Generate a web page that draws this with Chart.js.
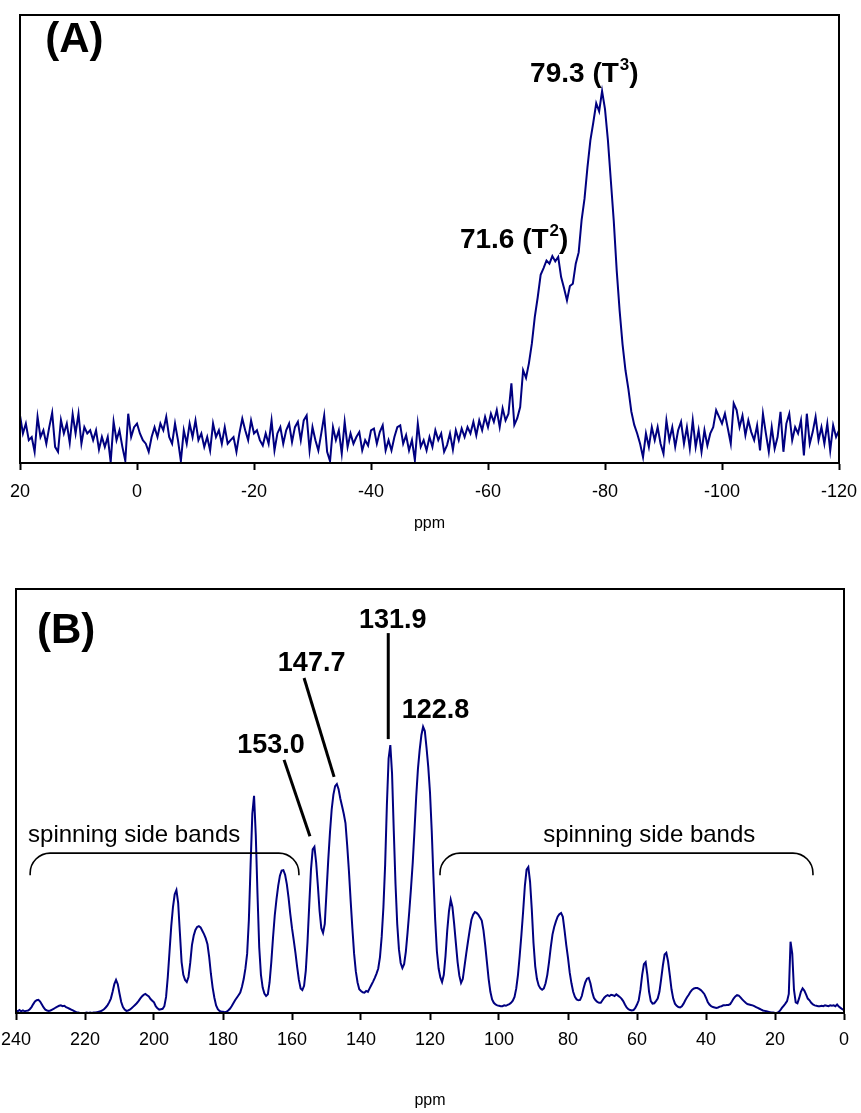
<!DOCTYPE html>
<html><head><meta charset="utf-8">
<script src="https://cdn.jsdelivr.net/npm/chart.js@4/dist/chart.umd.min.js"></script>
<style>
html,body{margin:0;padding:0;background:#fff;}
body{width:861px;height:1113px;overflow:hidden;position:relative;}
canvas{position:absolute;left:0;}
</style></head>
<body>
<canvas id="cA" width="861" height="556" style="top:0px"></canvas>
<canvas id="cB" width="861" height="557" style="top:556px"></canvas>
<script>
// ---------- DATA ----------
// Panel A: 29Si spectrum, sampled from 20 ppm down to -120 ppm every 0.5 ppm
const siStart = 20, siStep = -0.5;
const siIntensity = [
 10.6,6.6,8.8,5.1,5.8,2.5,10.3,5.8,7.3,4.3,
 8.0,11.2,3.6,2.5,9.6,6.6,8.8,4.5,10.9,6.6,
 11.0,4.3,8.0,6.6,7.3,5.1,7.3,3.0,5.8,3.6,
 5.8,0.2,9.2,5.1,7.3,3.6,0.5,11.0,5.8,8.0,
 8.8,6.6,5.1,4.3,2.5,5.8,8.0,5.8,8.8,7.3,
 10.3,5.8,4.3,8.8,5.1,0.4,7.3,4.3,8.8,5.8,
 9.5,5.1,6.6,3.6,5.8,2.8,8.8,5.8,7.3,4.3,
 8.0,4.3,5.1,5.8,
 2.5,6.6,9.9,7.3,5.1,9.5,6.6,7.3,5.1,3.9,
 6.6,4.3,9.5,2.8,6.6,8.0,4.3,7.3,8.8,4.7,
 8.0,9.2,5.1,9.5,10.6,2.8,8.0,5.1,2.8,6.6,
 10.6,2.5,0.4,8.0,5.1,7.3,2.1,9.2,3.6,6.6,
 4.3,5.8,6.9,2.8,5.1,3.9,7.3,7.7,4.3,6.9,
 8.4,2.8,5.1,2.8,5.8,8.0,8.4,4.3,6.2,2.8,
 5.1,0.6,8.8,3.6,5.1,2.8,5.8,3.6,7.3,5.1,
 6.6,2.5,
 4.0,6.6,3.0,7.3,5.1,7.7,5.8,8.0,6.6,9.2,
 6.2,9.5,7.3,10.3,8.0,11.0,9.2,11.8,8.0,12.2,
 9.5,11.0,17.8,8.5,10.0,12.5,20.7,19.0,22.3,26.7,
 32.6,37.0,42.0,43.5,45.2,44.5,46.2,45.0,46.0,41.5,
 39.0,36.3,39.5,40.0,44.5,47.0,54.2,59.0,66.0,72.0,
 76.0,80.3,78.5,83.0,79.0,72.0,63.0,54.0,43.0,34.0,
 26.5,20.7,16.5,11.5,8.5,6.6,4.3,1.3,
 6.6,3.6,8.0,5.1,8.0,4.3,2.1,9.5,5.1,8.0,
 3.6,7.3,9.2,4.3,8.0,3.2,9.5,3.6,7.3,2.5,
 7.3,3.9,6.6,8.0,11.8,10.3,8.8,11.0,7.7,4.3,
 13.3,11.8,8.0,10.6,6.2,9.5,6.9,5.1,8.4,2.8,
 11.0,6.6,2.5,8.0,3.2,5.8,11.4,2.5,8.8,11.0,
 5.1,8.0,6.6,9.5,1.7,11.0,4.3,6.9,10.3,5.1,
 8.0,4.3,8.8,2.8,8.4,5.8,7.3
];
const siTicks = [20,0,-20,-40,-60,-80,-100,-120];

// Panel B: 13C spectrum, sampled from 240 ppm down to 0 ppm every 0.5 ppm
const cStart = 240, cStep = -0.5;
const cIntensity = [
 0.6,0.4,0.7,0.4,0.6,0.4,0.5,0.6,0.9,1.4,2.1,2.7,3.0,3.1,2.7,2.0,1.3,0.8,0.6,0.5,
 0.6,0.8,1.0,1.3,1.5,1.7,1.8,1.6,1.7,1.4,1.2,1.0,0.8,0.6,0.4,0.2,0.1,0.0,0.0,0.0,
 0.0,0.1,0.0,0.1,0.0,0.1,0.1,0.2,0.3,0.4,0.6,0.9,1.3,1.8,2.5,3.4,5.0,6.8,7.8,6.8,
 4.6,2.6,1.4,0.8,0.5,0.6,0.8,1.1,1.5,1.9,2.3,2.8,3.4,3.9,4.3,4.5,4.2,3.9,3.3,2.9,
 2.5,1.6,1.1,0.8,0.9,1.0,1.6,3.8,8.5,14.5,20.5,25.0,28.0,29.0,26.0,19.0,12.0,9.0,7.8,7.3,
 8.5,11.8,16.0,18.2,19.6,20.3,20.5,20.2,19.4,18.6,17.6,16.2,13.2,9.2,6.0,3.6,1.8,0.9,0.5,0.3,
 0.3,0.2,0.3,0.6,1.0,1.6,2.3,3.0,3.6,4.2,4.8,6.2,8.0,10.5,14.0,22.0,35.0,47.0,51.2,42.0,
 28.0,15.5,9.0,6.0,4.6,4.0,4.4,7.2,12.0,17.8,23.0,26.8,30.0,32.4,33.6,33.7,32.6,30.4,27.2,23.4,
 20.0,17.2,14.2,10.8,7.8,5.8,5.4,6.4,10.0,16.8,25.5,33.8,38.6,39.2,35.5,30.0,24.0,20.0,18.9,21.0,
 28.5,36.0,42.5,48.0,51.5,53.5,54.0,52.8,50.6,48.8,47.0,44.8,39.5,33.5,26.5,20.0,14.0,9.8,7.2,5.6,
 5.2,4.9,4.8,5.2,5.0,5.8,6.6,7.4,8.3,9.3,10.5,13.2,18.0,25.0,35.0,49.0,60.0,63.2,56.5,43.0,
 30.5,21.0,15.0,11.8,10.6,11.5,14.5,19.0,24.0,29.5,35.5,43.0,51.0,57.5,62.0,65.5,67.5,66.5,62.5,58.0,
 52.0,43.0,32.0,22.0,14.5,10.5,8.4,7.3,9.0,13.5,19.5,24.0,26.7,25.0,21.0,16.5,12.0,8.8,7.1,8.0,
 11.0,14.0,16.8,19.5,22.0,23.2,23.8,23.6,23.2,22.5,21.8,19.5,16.0,12.0,8.0,5.0,3.2,2.4,2.0,1.8,
 1.7,1.6,1.6,1.8,1.7,1.9,2.1,2.4,2.9,3.8,5.8,9.0,13.5,18.5,24.0,30.0,33.8,34.4,31.0,24.5,
 16.5,11.0,8.0,6.5,5.8,5.5,5.8,7.0,9.0,12.0,15.5,18.5,20.3,21.6,22.7,23.3,23.6,22.7,19.5,16.0,
 13.0,9.5,7.0,5.0,3.8,3.2,3.0,3.1,4.0,5.8,7.2,8.1,8.3,7.0,5.0,3.6,3.0,2.6,2.4,2.4,
 3.0,3.6,4.0,4.2,4.0,4.3,4.2,4.0,4.4,4.1,3.8,3.4,2.8,2.0,1.3,0.9,0.7,0.6,0.7,1.2,
 2.0,3.0,5.5,9.0,11.5,12.0,9.0,5.0,2.8,2.2,2.3,2.8,3.4,5.0,8.0,11.2,13.8,14.2,12.2,9.0,
 5.6,3.4,2.2,1.7,1.4,1.3,1.6,2.2,3.0,3.7,4.3,5.0,5.5,5.8,5.9,5.9,5.7,5.4,5.0,4.5,
 3.6,2.6,2.0,1.6,1.4,1.3,1.2,1.3,1.5,1.6,1.8,1.8,1.9,1.9,2.1,2.7,3.4,3.9,4.2,4.1,
 3.7,3.2,2.8,2.4,2.1,2.0,1.9,1.8,1.6,1.4,1.2,1.0,0.8,0.6,0.5,0.4,0.3,0.2,0.1,0.1,
 0.0,0.0,0.2,0.6,1.2,1.7,2.2,2.8,4.5,16.8,14.0,5.5,2.5,2.3,3.5,5.0,5.8,5.3,4.4,3.4,
 3.0,2.4,2.0,1.8,1.7,1.6,1.6,1.7,1.6,1.8,1.7,1.6,1.8,1.7,1.8,1.6,2.0,1.5,1.2,0.9,0.7
];
const cTicks = [240,220,200,180,160,140,120,100,80,60,40,20,0];

// Annotation texts (anchored in data coordinates: ppm, intensity)
const siPeakLabels = [
  {pre:'79.3 (T', sup:'3', post:')', ppm:-67.2, v:85.0},
  {pre:'71.6 (T', sup:'2', post:')', ppm:-55.2, v:48.0}
];
const cPeakLabels = [
  {text:'131.9', ppm:140.6, v:90.8},
  {text:'147.7', ppm:164.1, v:80.7},
  {text:'153.0', ppm:175.9, v:61.3},
  {text:'122.8', ppm:128.2, v:69.6}
];
const cLeaders = [[132.1,89.6,132.1,64.6],[156.5,79.0,147.8,55.7],[162.3,59.7,154.8,41.7]];
const cBandTexts = [{text:'spinning side bands', ppm:236.5, v:40.3},{text:'spinning side bands', ppm:87.2, v:40.3}];
const cBrackets = [[235.9,158.0,37.7,32.5],[117.1,9.0,37.7,32.5]];

// ---------- DRAWING ----------
const FONT = '"Liberation Sans", Arial, Helvetica, sans-serif';
const LINE = '#000080';

function pts(start, step, arr){ return arr.map((v,i)=>({x:start+i*step, y:v})); }

const framePlugin = {
  id:'frame',
  afterDraw(chart){
    const {ctx, chartArea:a} = chart;
    ctx.save();
    ctx.strokeStyle='#000'; ctx.lineWidth=2;
    ctx.strokeRect(a.left, a.top, a.right-a.left, a.bottom-a.top);
    ctx.restore();
  }
};

function supLabel(ctx, x, y, l, size){
  ctx.font = `bold ${size}px ${FONT}`;
  ctx.fillText(l.pre, x, y);
  const w = ctx.measureText(l.pre).width;
  const ss = Math.round(size*0.62);
  ctx.font = `bold ${ss}px ${FONT}`;
  ctx.fillText(l.sup, x+w+1, y-size*0.42);
  const w2 = ctx.measureText(l.sup).width;
  ctx.font = `bold ${size}px ${FONT}`;
  ctx.fillText(l.post, x+w+w2+1, y);
}

const annoA = {
  id:'annoA',
  afterDraw(chart){
    const {ctx} = chart; const sx = chart.scales.x, sy = chart.scales.y;
    ctx.save(); ctx.fillStyle='#000'; ctx.textBaseline='alphabetic'; ctx.textAlign='left';
    ctx.font = `bold 42px ${FONT}`;
    ctx.fillText('(A)', sx.getPixelForValue(15.7), sy.getPixelForValue(91.7));
    siPeakLabels.forEach(l=>supLabel(ctx, sx.getPixelForValue(l.ppm), sy.getPixelForValue(l.v), l, 28));
    ctx.restore();
  }
};

const annoB = {
  id:'annoB',
  afterDraw(chart){
    const {ctx} = chart; const sx = chart.scales.x, sy = chart.scales.y;
    const X = v=>sx.getPixelForValue(v), Y = v=>sy.getPixelForValue(v);
    ctx.save(); ctx.fillStyle='#000'; ctx.strokeStyle='#000'; ctx.textBaseline='alphabetic'; ctx.textAlign='left';
    ctx.font = `bold 42px ${FONT}`;
    ctx.fillText('(B)', X(233.9), Y(87.3));
    ctx.font = `bold 27px ${FONT}`;
    cPeakLabels.forEach(l=>ctx.fillText(l.text, X(l.ppm), Y(l.v)));
    ctx.lineWidth = 3;
    cLeaders.forEach(s=>{ ctx.beginPath(); ctx.moveTo(X(s[0]),Y(s[1])); ctx.lineTo(X(s[2]),Y(s[3])); ctx.stroke(); });
    ctx.font = `24px ${FONT}`;
    cBandTexts.forEach(l=>ctx.fillText(l.text, X(l.ppm), Y(l.v)));
    ctx.lineWidth = 1.6;
    cBrackets.forEach(b=>{
      const x1=X(b[0]), x2=X(b[1]), yt=Y(b[2]), yb=Y(b[3]); const r=20;
      ctx.beginPath(); ctx.moveTo(x1,yb); ctx.arcTo(x1,yt,x1+r,yt,r); ctx.lineTo(x2-r,yt); ctx.arcTo(x2,yt,x2,yb,r); ctx.lineTo(x2,yb); ctx.stroke();
    });
    ctx.restore();
  }
};

function makeChart(id, data, tickVals, min, max, pad, axisH, tickPad, anno){
  return new Chart(document.getElementById(id), {
    type:'line',
    data:{datasets:[{data, borderColor:LINE, borderWidth:2, pointRadius:0, tension:0, fill:false}]},
    options:{
      responsive:false, animation:false, events:[],
      layout:{padding:pad},
      plugins:{legend:{display:false}, tooltip:{enabled:false}},
      scales:{
        x:{type:'linear', reverse:true, min, max,
          afterBuildTicks:s=>{ s.ticks = tickVals.map(v=>({value:v})); },
          afterFit:s=>{ s.height = axisH; s.paddingLeft = 0; s.paddingRight = 0; },
          ticks:{font:{family:FONT,size:18}, color:'#000', padding:tickPad, maxRotation:0, autoSkip:false},
          grid:{drawOnChartArea:false, drawTicks:true, tickLength:7, tickColor:'#000', tickWidth:2},
          border:{display:true, color:'#000', width:2},
          title:{display:true, text:'ppm', font:{family:FONT,size:16}, color:'#000', padding:0}
        },
        y:{display:false, min:0, max:100}
      }
    },
    plugins:[framePlugin, anno]
  });
}

makeChart('cA', pts(siStart, siStep, siIntensity), siTicks, -120, 20, {left:20,right:22,top:15,bottom:23}, 70, 11, annoA);
makeChart('cB', pts(cStart, cStep, cIntensity), cTicks, 0, 240, {left:16,right:17,top:33,bottom:3}, 97, 9, annoB);
</script>
</body></html>
